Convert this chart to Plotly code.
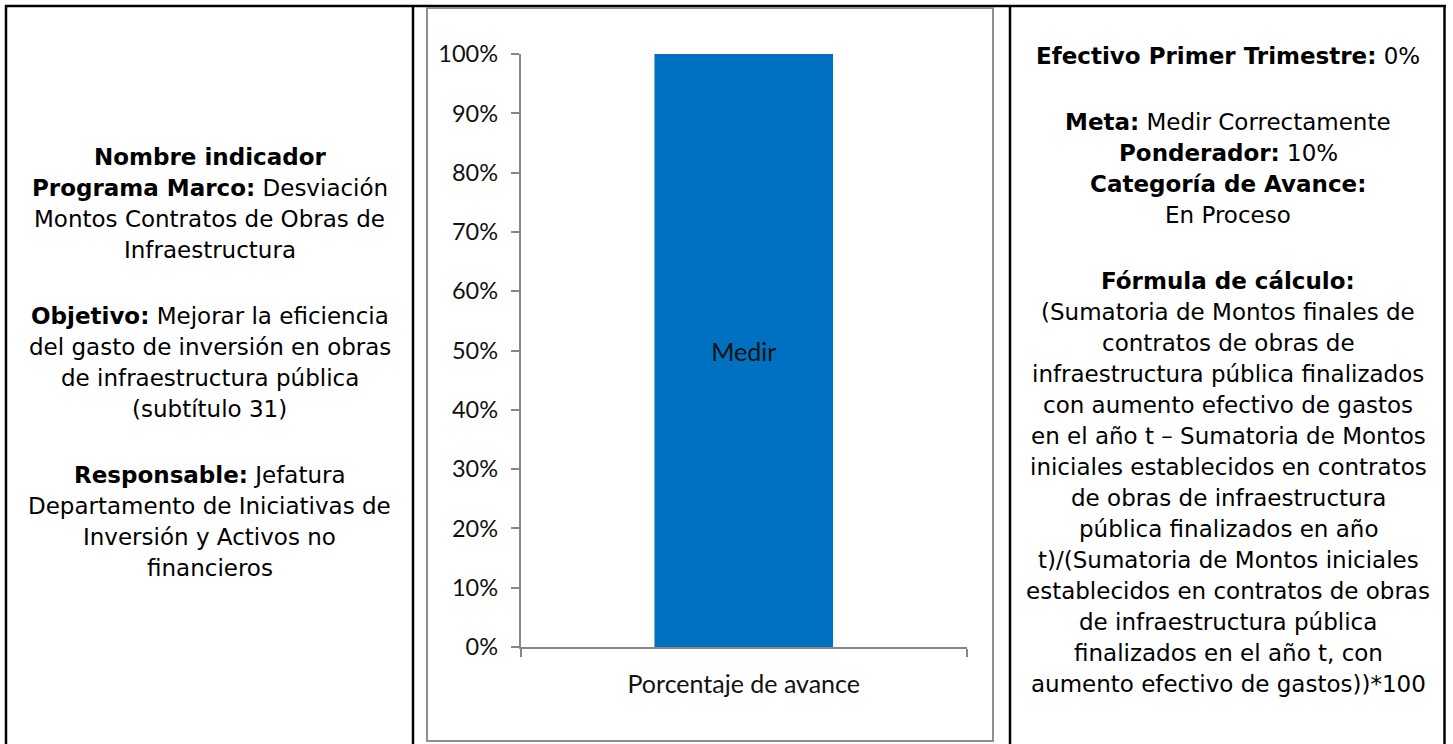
import plotly.graph_objects as go

W, H = 1453, 744

# ---- data ----
categories = ["Porcentaje de avance"]
values = [1.0]
bar_labels = ["Medir"]
y_ticks = [0, 0.1, 0.2, 0.3, 0.4, 0.5, 0.6, 0.7, 0.8, 0.9, 1.0]

left_paragraphs = [
    ["<b>Nombre indicador</b>",
     "<b>Programa Marco:</b> Desviación",
     "Montos Contratos de Obras de",
     "Infraestructura"],
    ["<b>Objetivo:</b> Mejorar la eficiencia",
     "del gasto de inversión en obras",
     "de infraestructura pública",
     "(subtítulo 31)"],
    ["<b>Responsable:</b> Jefatura",
     "Departamento de Iniciativas de",
     "Inversión y Activos no",
     "financieros"],
]

right_paragraphs = [
    ["<b>Efectivo Primer Trimestre:</b> 0%"],
    ["<b>Meta:</b> Medir Correctamente",
     "<b>Ponderador:</b> 10%",
     "<b>Categoría de Avance:</b>",
     "En Proceso"],
    ["<b>Fórmula de cálculo:</b>",
     "(Sumatoria de Montos finales de",
     "contratos de obras de",
     "infraestructura pública finalizados",
     "con aumento efectivo de gastos",
     "en el año t – Sumatoria de Montos",
     "iniciales establecidos en contratos",
     "de obras de infraestructura",
     "pública finalizados en año",
     "t)/(Sumatoria de Montos iniciales",
     "establecidos en contratos de obras",
     "de infraestructura pública",
     "finalizados en el año t, con",
     "aumento efectivo de gastos))*100"],
]

# ---- helpers ----
def px(x):
    return x / W

def py(y):
    return 1 - y / H

CHART_FONT = "Lato, 'Open Sans', sans-serif"
SIDE_FONT = "'DejaVu Sans', Verdana, sans-serif"
GRAY = "#878787"

fig = go.Figure()
fig.add_trace(go.Bar(
    x=categories, y=values, text=bar_labels,
    textposition="inside", insidetextanchor="middle",
    textfont=dict(family=CHART_FONT, size=25, color="#111111"),
    marker=dict(color="#0070C0", line=dict(width=0)),
    width=0.4, hoverinfo="skip",
))

fig.update_layout(
    template="none",
    width=W, height=H, autosize=False,
    margin=dict(l=0, r=0, t=0, b=0, pad=0),
    paper_bgcolor="white", plot_bgcolor="white",
    showlegend=False,
    xaxis=dict(
        automargin=False,
        domain=[px(520.5), px(967)],
        range=[-0.5, 0.5],
        showline=True, linecolor=GRAY, linewidth=1.5,
        ticks="outside", tickson="boundaries", ticklen=8, tickcolor=GRAY, tickwidth=1.5,
        showgrid=False, zeroline=False,
        tickfont=dict(family=CHART_FONT, size=25, color="#111111"),
        ticklabelstandoff=14,
    ),
    yaxis=dict(
        automargin=False,
        domain=[py(647), py(54)],
        range=[0, 1.0],
        tickvals=y_ticks, tickformat=".0%",
        showline=True, linecolor=GRAY, linewidth=1.5,
        ticks="outside", ticklen=8, tickcolor=GRAY, tickwidth=1.5,
        showgrid=False, zeroline=False,
        tickfont=dict(family=CHART_FONT, size=23.5, color="#111111"),
        ticklabelstandoff=8,
    ),
)

# ---- table borders ----
shapes = []
black = dict(color="black", width=2.5)
shapes.append(dict(type="line", xref="paper", yref="paper",
                   x0=px(5), x1=px(1446), y0=py(6), y1=py(6), line=black))
for xv in [6, 413, 1010, 1444.5]:
    shapes.append(dict(type="line", xref="paper", yref="paper",
                       x0=px(xv), x1=px(xv), y0=py(5), y1=py(H), line=black))
# chart box
shapes.append(dict(type="rect", xref="paper", yref="paper",
                   x0=px(427), x1=px(993), y0=py(741), y1=py(8),
                   line=dict(color="#8f8f8f", width=2)))
fig.update_layout(shapes=shapes)

# ---- side texts ----
LINE = 31
PARA_GAP = 35

def add_column(paragraphs, cx, y0):
    y = y0
    first = True
    for para in paragraphs:
        if not first:
            y += PARA_GAP
        for line in para:
            if not first:
                y += LINE
            first = False
            fig.add_annotation(
                x=px(cx), y=py(y), xref="paper", yref="paper",
                text=line, showarrow=False, xanchor="center", yanchor="middle",
                font=dict(family=SIDE_FONT, size=23, color="black"),
            )

add_column(left_paragraphs, 209.5, 157)
add_column(right_paragraphs, 1228, 56)

post = (
    "document.documentElement.style.margin='0';"
    "document.documentElement.style.overflow='hidden';"
    "document.body.style.margin='0';"
    "document.body.style.overflow='hidden';"
    "var d=document.getElementById('{plot_id}');"
    "d.style.position='fixed';d.style.top='0';d.style.left='0';"
)
fig.write_html("out.html", post_script=post, config={"displayModeBar": False})
